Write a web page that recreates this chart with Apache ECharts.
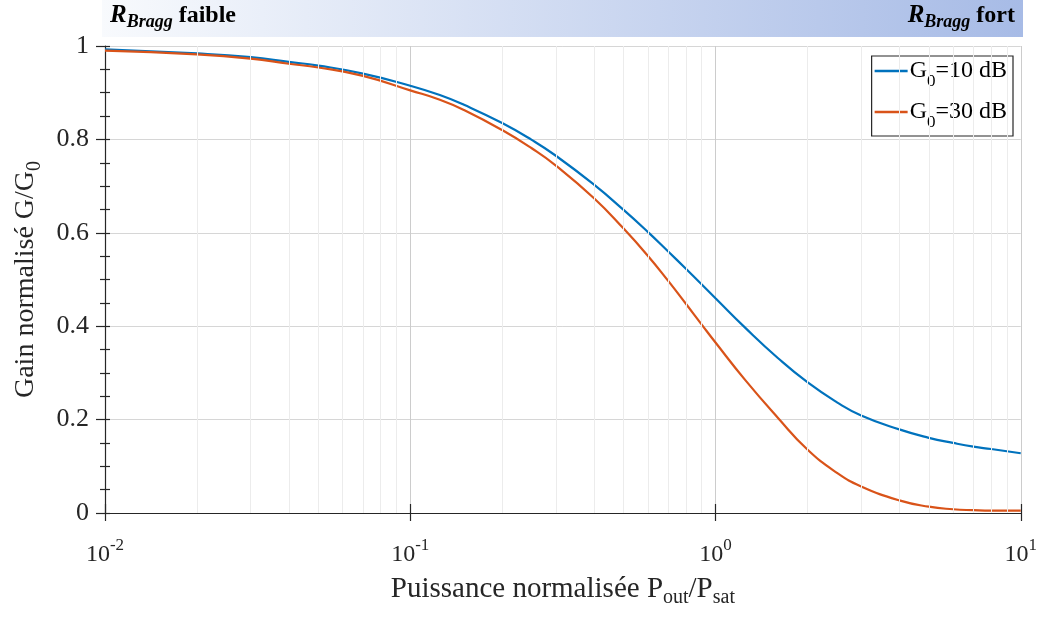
<!DOCTYPE html>
<html><head><meta charset="utf-8">
<script src="https://cdn.jsdelivr.net/npm/echarts@6/dist/echarts.min.js"></script>
<style>html,body{margin:0;padding:0;background:#fff}#c{width:1040px;height:617px}</style>
</head><body><div id="c"></div>
<script>
// ---- data ----
const pout = [0.01,0.02,0.03,0.04,0.05,0.07,0.1,0.125,0.15,0.2,0.25,0.3,0.4,0.5,0.6,0.7,0.8,0.9,1,1.25,1.6,2,2.5,3,4,5,6,7,8,10];
const g10  = [0.993,0.984,0.976,0.966,0.958,0.941,0.915,0.895,0.874,0.835,0.799,0.765,0.703,0.649,0.602,0.560,0.523,0.490,0.460,0.397,0.332,0.280,0.237,0.209,0.179,0.161,0.150,0.142,0.137,0.128];
const g30  = [0.990,0.982,0.973,0.962,0.954,0.936,0.905,0.885,0.863,0.820,0.781,0.744,0.674,0.609,0.551,0.497,0.448,0.404,0.365,0.285,0.204,0.136,0.086,0.057,0.027,0.0135,0.008,0.006,0.005,0.005];
const seriesNames = ['G0=10 dB','G0=30 dB'];
const legendRich = ['{a|G}{s|0}{a|=10 dB}','{a|G}{s|0}{a|=30 dB}'];
const xMajor = [0.01,0.1,1,10];
const xExp = ['-2','-1','0','1'];
const xMinor = [0.02,0.03,0.04,0.05,0.06,0.07,0.08,0.09,0.2,0.3,0.4,0.5,0.6,0.7,0.8,0.9,2,3,4,5,6,7,8,9];
const yMin = 0, yMax = 1, yStep = 0.2;

const FONT = "'Liberation Serif','Times New Roman',serif";
const INK = '#262626';

const chart = echarts.init(document.getElementById('c'), null, {renderer:'canvas'});

function expLabel(v){
  const i = xMajor.findIndex(m => Math.abs(Math.log10(m) - Math.log10(v)) < 1e-6);
  return i < 0 ? '' : '{b|10}{e|' + xExp[i] + '}';
}

const xBase = {type:'log', logBase:10, min:xMajor[0], max:xMajor[xMajor.length-1], gridIndex:0};
const yBase = {type:'value', min:yMin, max:yMax, interval:yStep, gridIndex:0};
const bannerRich = {
  r:{fontFamily:FONT, fontStyle:'italic', fontWeight:'bold', fontSize:25, fill:'#000', lineHeight:32, verticalAlign:'middle'},
  b:{fontFamily:FONT, fontStyle:'italic', fontWeight:'bold', fontSize:18, fill:'#000', lineHeight:32, verticalAlign:'bottom'},
  f:{fontFamily:FONT, fontWeight:'bold', fontSize:24, fill:'#000', lineHeight:32, verticalAlign:'middle'}
};

const option = {
  animation:false,
  backgroundColor:'#fff',
  grid:{left:105, right:17, top:46, bottom:104, containLabel:false},
  xAxis:[
    Object.assign({}, xBase, {
      position:'bottom',
      axisLine:{show:true, lineStyle:{color:INK, width:1.2}},
      axisTick:{show:true, inside:false, length:8, lineStyle:{color:INK, width:1.2}},
      axisLabel:{margin:24, formatter:expLabel, color:INK,
        rich:{b:{fontFamily:FONT, fontSize:24, color:INK, lineHeight:30, verticalAlign:'bottom'},
              e:{fontFamily:FONT, fontSize:17, color:INK, lineHeight:30, verticalAlign:'top'}}},
      splitLine:{show:true, lineStyle:{color:'#cccccc', width:1}},
      name:'{a|Puissance normalisée P}{s|out}{a|/P}{s|sat}',
      nameLocation:'middle', nameGap:57,
      nameTextStyle:{rich:{a:{fontFamily:FONT, fontSize:29, color:INK, lineHeight:38, verticalAlign:'middle'},
                           s:{fontFamily:FONT, fontSize:20, color:INK, lineHeight:38, verticalAlign:'bottom'}}}
    }),
    Object.assign({}, xBase, {
      position:'bottom',
      axisLine:{show:false}, axisLabel:{show:false}, splitLine:{show:false},
      axisTick:{show:true, inside:true, length:9, lineStyle:{color:INK, width:1.2}}
    })
  ],
  yAxis:[
    Object.assign({}, yBase, {
      position:'left',
      axisLine:{show:true, lineStyle:{color:INK, width:1.2}},
      axisTick:{show:true, inside:false, length:9, lineStyle:{color:INK, width:1.2}},
      minorTick:{show:true, splitNumber:4, length:5, lineStyle:{color:INK, width:1.2}},
      axisLabel:{margin:16, color:INK, fontFamily:FONT, fontSize:26},
      splitLine:{show:true, lineStyle:{color:'#d6d6d6', width:1}},
      name:'{a|Gain normalisé G/G}{s|0}',
      nameLocation:'middle', nameGap:60, nameRotate:90,
      nameTextStyle:{rich:{a:{fontFamily:FONT, fontSize:28, color:INK, lineHeight:38, verticalAlign:'middle'},
                           s:{fontFamily:FONT, fontSize:20, color:INK, lineHeight:38, verticalAlign:'bottom'}}}
    }),
    Object.assign({}, yBase, {
      position:'left',
      axisLine:{show:false}, axisLabel:{show:false}, splitLine:{show:false},
      axisTick:{show:true, inside:true, length:5, lineStyle:{color:INK, width:1.2}},
      minorTick:{show:true, splitNumber:4, length:5, lineStyle:{color:INK, width:1.2}}
    })
  ],
  legend:{
    data:seriesNames, orient:'vertical', right:27, top:56,
    backgroundColor:'#fff', borderColor:INK, borderWidth:1.2, borderRadius:0,
    padding:[3,6,5,3], itemGap:10, itemWidth:33, itemHeight:2.4, icon:'rect',
    formatter:function(n){ return legendRich[seriesNames.indexOf(n)]; },
    textStyle:{padding:[0,0,0,-3], rich:{a:{fontFamily:FONT, fontSize:24, color:'#000', lineHeight:38, verticalAlign:'middle'},
                     s:{fontFamily:FONT, fontSize:17, color:'#000', lineHeight:38, verticalAlign:'bottom'}}}
  },
  graphic:[
    {type:'rect', z:-10, shape:{x:102, y:0, width:921, height:37},
     style:{fill:new echarts.graphic.LinearGradient(0,0,1,0,[{offset:0,color:'#f8fafd'},{offset:1,color:'#a7bbe6'}])}},
    {type:'text', left:110, top:3, style:{text:'{r|R}{b|Bragg}{f| faible}', rich:bannerRich}},
    {type:'text', right:25, top:3, style:{text:'{r|R}{b|Bragg}{f| fort}', rich:bannerRich}}
  ],
  series:[
    {
      name:'grid-minor', type:'line', xAxisIndex:0, yAxisIndex:0, z:1,
      data:[[pout[0], g10[0]]], symbol:'none', lineStyle:{opacity:0}, silent:true,
      markLine:{silent:true, symbol:['none','none'], label:{show:false}, animation:false,
        lineStyle:{color:'#ececec', type:'solid', width:1},
        data:xMinor.map(v => ({xAxis:v}))
          .concat(xMinor.map(v => [{coord:[v, -0.009], lineStyle:{color:INK, width:1.2}}, {coord:[v, 0.009], lineStyle:{color:INK, width:1.2}}]))
      }
    },
    {name:seriesNames[0], type:'line', z:3, data:pout.map((x,i)=>[x,g10[i]]),
     symbol:'none', smooth:0.5, color:'#0072BD', lineStyle:{width:2.2, color:'#0072BD'}},
    {name:seriesNames[1], type:'line', z:3, data:pout.map((x,i)=>[x,g30[i]]),
     symbol:'none', smooth:0.5, color:'#D95319', lineStyle:{width:2.2, color:'#D95319'}}
  ]
};
chart.setOption(option);
</script>
</body></html>
